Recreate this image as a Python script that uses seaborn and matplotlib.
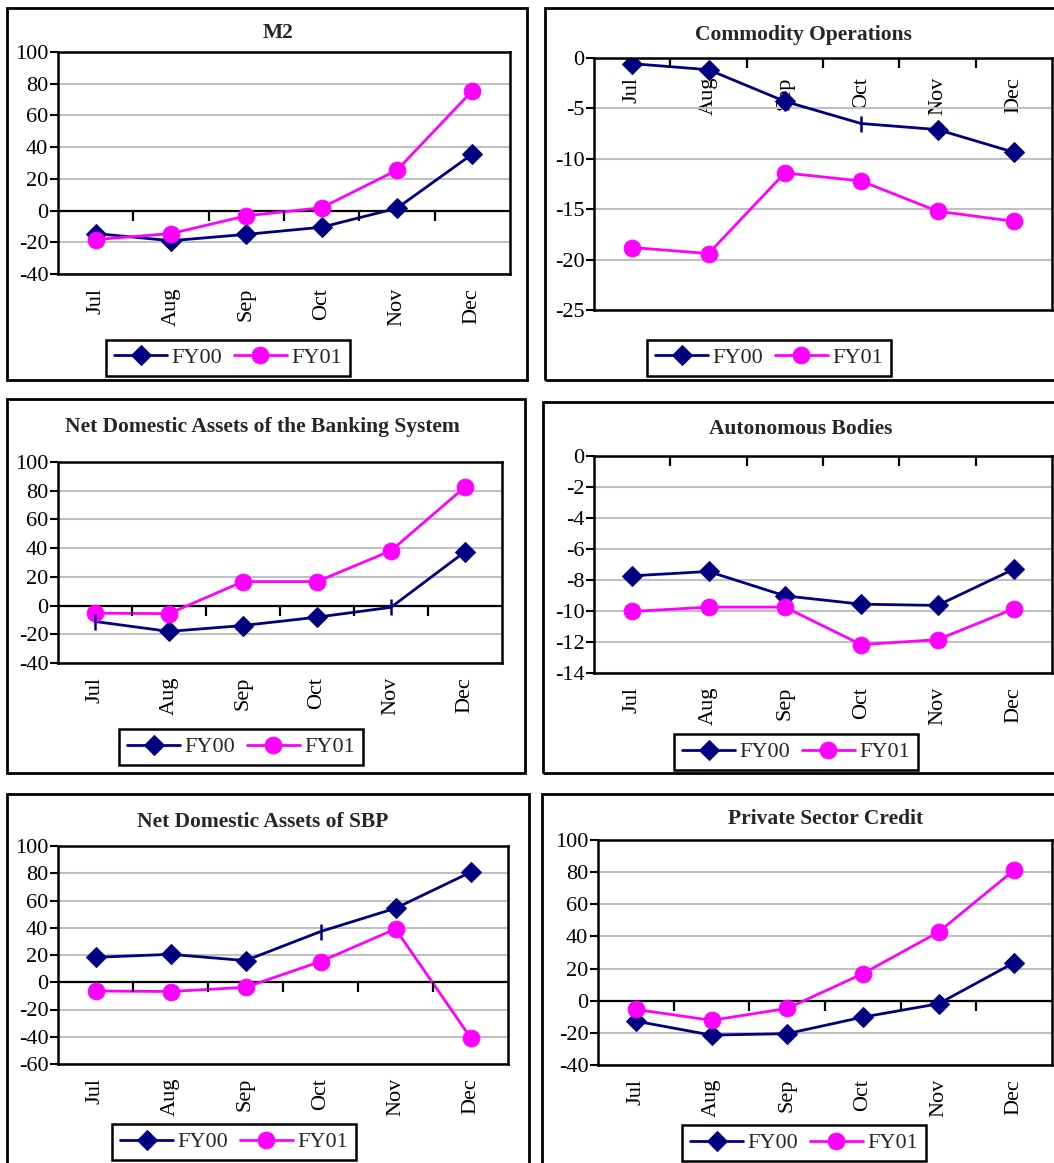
import matplotlib.pyplot as plt
import matplotlib.patches as mpatches
import seaborn as sns
import numpy as np

# data (changes, by month)
months = ['Jul', 'Aug', 'Sep', 'Oct', 'Nov', 'Dec']
series_names = ['FY00', 'FY01']

m2_fy00 = [-14.5, -19.0, -15.0, -10.5, 1.5, 35.6]
m2_fy01 = [-18.3, -14.5, -3.3, 1.8, 25.5, 75.5]
comm_fy00 = [-0.56, -1.16, -4.3, -6.5, -7.1, -9.35]
comm_fy01 = [-18.8, -19.4, -11.4, -12.2, -15.2, -16.2]
ndab_fy00 = [-11.1, -18.0, -13.9, -8.1, -1.2, 37.5]
ndab_fy01 = [-5.3, -5.6, 16.7, 16.7, 38.2, 82.6]
auto_fy00 = [-7.73, -7.45, -9.02, -9.56, -9.64, -7.3]
auto_fy01 = [-10.03, -9.75, -9.75, -12.17, -11.85, -9.86]
sbp_fy00 = [18.3, 20.5, 15.9, 37.2, 54.3, 80.7]
sbp_fy01 = [-6.4, -6.8, -3.7, 15.2, 39.1, -40.6]
psc_fy00 = [-12.7, -21.4, -20.5, -10.2, -1.9, 23.7]
psc_fy01 = [-5.4, -12.2, -4.8, 16.8, 42.7, 81.3]

titles = ['M2', 'Commodity Operations', 'Net Domestic Assets of the Banking System',
          'Autonomous Bodies', 'Net Domestic Assets of SBP', 'Private Sector Credit']

sns.set_style('white')
plt.rcParams['font.family'] = ['Liberation Serif', 'DejaVu Serif']
plt.rcParams['axes.unicode_minus'] = False

W, H = 1054, 1163
fig = plt.figure(figsize=(W / 100, H / 100), dpi=100)

NAVY = '#000080'
MAGENTA = '#FF00FF'
FS = 16


def fx(x):
    return x / W


def fy(y):
    return 1 - y / H


# layout in pixels: panel box, axes box, title centre, legend centre, where x labels go,
# and points where the FY00 diamond is missing in the original (drawn as a bar)
panels = [
    dict(data=(m2_fy00, m2_fy01), ylim=(-40, 100), step=20,
         box=(7, 8, 527, 380), axes=(58, 52, 510, 274), title=(278, 33), legend=(228, 358),
         labels='bottom', glitch=[]),
    dict(data=(comm_fy00, comm_fy01), ylim=(-25, 0), step=5,
         box=(545, 8, 1070, 380), axes=(594, 58, 1052, 310), title=(803, 35), legend=(769, 358),
         labels='zero', glitch=[3]),
    dict(data=(ndab_fy00, ndab_fy01), ylim=(-40, 100), step=20,
         box=(7, 399, 525, 773), axes=(58, 462, 502, 663), title=(262, 427), legend=(241, 747),
         labels='bottom', glitch=[0, 4]),
    dict(data=(auto_fy00, auto_fy01), ylim=(-14, 0), step=2,
         box=(543, 402, 1070, 773), axes=(594, 456, 1052, 673), title=(801, 429), legend=(796, 752),
         labels='bottom', glitch=[]),
    dict(data=(sbp_fy00, sbp_fy01), ylim=(-60, 100), step=20,
         box=(7, 794, 529, 1180), axes=(58, 846, 508, 1064), title=(263, 822), legend=(234, 1142),
         labels='bottom', glitch=[3]),
    dict(data=(psc_fy00, psc_fy01), ylim=(-40, 100), step=20,
         box=(542, 794, 1070, 1180), axes=(598, 840, 1052, 1065), title=(826, 819), legend=(804, 1143),
         labels='bottom', glitch=[]),
]

x = np.arange(len(months))
bounds = x[:-1] + 0.5

for p, title in zip(panels, titles):
    bx0, by0, bx1, by1 = p['box']
    fig.add_artist(mpatches.Rectangle((fx(bx0), fy(by1)), fx(bx1 - bx0), (by1 - by0) / H,
                                      transform=fig.transFigure, fill=False,
                                      edgecolor='black', linewidth=2))
    ax0, ay0, ax1, ay1 = p['axes']
    ax = fig.add_axes([fx(ax0), fy(ay1), fx(ax1 - ax0), (ay1 - ay0) / H])

    fy00, fy01 = p['data']
    keep = [i for i in range(len(months)) if i not in p['glitch']]
    sns.lineplot(x=x, y=fy00, ax=ax, color=NAVY, linewidth=2, marker='D', markersize=10,
                 markeredgecolor=NAVY, markevery=keep, label='FY00', legend=False)
    sns.lineplot(x=x, y=fy01, ax=ax, color=MAGENTA, linewidth=2, marker='o', markersize=12,
                 markeredgecolor=MAGENTA, label='FY01', legend=False)
    for i in p['glitch']:
        ax.plot(x[i], fy00[i], marker='|', markersize=11, markeredgewidth=1.8, color=NAVY)

    lo, hi = p['ylim']
    ax.set_ylim(lo, hi)
    ax.set_xlim(-0.5, len(months) - 0.5)
    ax.set_yticks(np.arange(lo, hi + p['step'] / 2, p['step']))
    ax.yaxis.grid(True, color='#C0C0C0', linewidth=1.5)
    ax.set_axisbelow(True)
    ax.axhline(0, color='black', linewidth=1.6, zorder=1.5)
    ax.plot(bounds, np.zeros(len(bounds)), ls='none', marker=3, markersize=7,
            markeredgewidth=1.6, color='black', clip_on=False)

    for s in ax.spines.values():
        s.set_color('black')
        s.set_linewidth(1.8)

    ax.set_xticks(x)
    ax.set_xticklabels(months, rotation=90)
    ax.tick_params(axis='y', length=6, width=1.5, direction='out', labelsize=FS, pad=1,
                   left=True, colors='black')
    if p['labels'] == 'zero':
        pad = -((ay1 - ay0) - 19) * 0.72
    else:
        pad = 10
    ax.tick_params(axis='x', length=0, labelsize=FS, pad=pad, colors='black')
    ax.set_xlabel('')
    ax.set_ylabel('')

    fig.text(fx(p['title'][0]), fy(p['title'][1]), title, ha='center', va='center',
             fontsize=15.5, fontweight='bold')

    handles, labels = ax.get_legend_handles_labels()
    leg = ax.legend(handles, labels, loc='center', ncol=2,
                    bbox_to_anchor=(fx(p['legend'][0]), fy(p['legend'][1])),
                    bbox_transform=fig.transFigure, frameon=True, fancybox=False,
                    edgecolor='black', framealpha=1, fontsize=FS, handlelength=2.4,
                    handletextpad=0.2, columnspacing=0.5, borderpad=0.35, borderaxespad=0)
    leg.get_frame().set_linewidth(1.8)

fig.savefig('out.png', dpi=100)
